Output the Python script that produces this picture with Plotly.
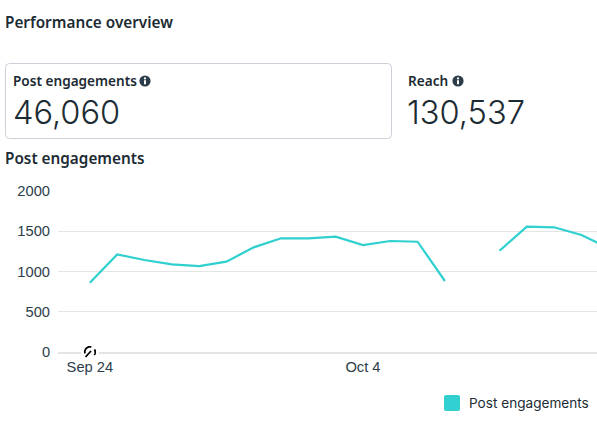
import math
import plotly.graph_objects as go

WIDTH, HEIGHT = 597, 429

# Daily post engagements; None marks the day with no reported value
dates = [
    "2023-09-24", "2023-09-25", "2023-09-26", "2023-09-27", "2023-09-28",
    "2023-09-29", "2023-09-30", "2023-10-01", "2023-10-02", "2023-10-03",
    "2023-10-04", "2023-10-05", "2023-10-06", "2023-10-07", "2023-10-08",
    "2023-10-09", "2023-10-10", "2023-10-11", "2023-10-12", "2023-10-13",
]
engagements = [
    861, 1212, 1143, 1089, 1068,
    1122, 1300, 1412, 1412, 1432,
    1329, 1379, 1370, 882, None,
    1258, 1557, 1549, 1453, 1290,
]
y_ticks = [0, 500, 1000, 1500, 2000]
x_tick_dates = ["2023-09-24", "2023-10-04"]
x_tick_labels = ["Sep 24", "Oct 4"]

title_text = "Performance overview"
section_text = "Post engagements"
kpi_names = ["Post engagements", "Reach"]
kpi_values = ["46,060", "130,537"]

INK = "#1c2b33"
TICK = "#2b3d4a"
TEAL = "#2fd0cf"
GRID = "#e4e4e4"
BORDER = "#ccd0d8"
HEAD_FONT = "Noto Sans"
NUM_FONT = "Inter"
AXIS_FONT = "Liberation Sans"


def px(x):
    return x / WIDTH


def py(y):
    return 1 - y / HEIGHT


def label(x, y, text, size, family=HEAD_FONT, weight=400, color=INK, anchor="left"):
    return dict(
        x=px(x), y=py(y), xref="paper", yref="paper", text=text, showarrow=False,
        xanchor=anchor, yanchor="middle", borderpad=0,
        font=dict(family=family, size=size, weight=weight, color=color),
    )


def rounded_rect(x0, y0, x1, y1, r):
    def p(x, y):
        return f"{px(x):.5f},{py(y):.5f}"
    return (
        f"M{p(x0 + r, y0)} L{p(x1 - r, y0)} Q{p(x1, y0)} {p(x1, y0 + r)} "
        f"L{p(x1, y1 - r)} Q{p(x1, y1)} {p(x1 - r, y1)} "
        f"L{p(x0 + r, y1)} Q{p(x0, y1)} {p(x0, y1 - r)} "
        f"L{p(x0, y0 + r)} Q{p(x0, y0)} {p(x0 + r, y0)} Z"
    )


def arc(cx, cy, r, start, end, steps=24):
    pts = []
    for i in range(steps + 1):
        a = math.radians(start + (end - start) * i / steps)
        pts.append(f"{px(cx + r * math.cos(a)):.5f},{py(cy - r * math.sin(a)):.5f}")
    return "M" + " L".join(pts)


def disc(cx, cy, r, fill):
    return dict(
        type="circle", xref="paper", yref="paper",
        x0=px(cx - r), x1=px(cx + r), y0=py(cy + r), y1=py(cy - r),
        fillcolor=fill, line=dict(width=0), layer="above",
    )


def info_icon(cx, cy):
    # Filled dot with a knocked-out "i"
    return [
        disc(cx, cy, 5.6, "#2b3d4a"),
        disc(cx, cy - 2.6, 1.1, "white"),
        dict(type="rect", xref="paper", yref="paper",
             x0=px(cx - 1), x1=px(cx + 1), y0=py(cy + 3.2), y1=py(cy - 0.8),
             fillcolor="white", line=dict(width=0), layer="above"),
    ]


def gauge_icon(cx, cy):
    # Loading gauge sitting on the baseline at the first date
    stroke = dict(color="black", width=1.8)
    return [
        disc(cx, cy, 9, "white"),
        dict(type="path", xref="paper", yref="paper", path=arc(cx, cy, 5.2, 195, 75),
             line=stroke, layer="above"),
        dict(type="path", xref="paper", yref="paper", path=arc(cx, cy, 5.2, 30, -35),
             line=stroke, layer="above"),
        dict(type="path", xref="paper", yref="paper",
             path=f"M{px(cx - 4.5):.5f},{py(cy + 5):.5f} L{px(cx + 1):.5f},{py(cy - 1):.5f}",
             line=stroke, layer="above"),
    ]


shapes = [
    dict(type="path", xref="paper", yref="paper",
         path=rounded_rect(5.5, 63.5, 391.5, 138.5, 4),
         line=dict(color=BORDER, width=1), fillcolor="white", layer="below"),
    dict(type="path", xref="paper", yref="paper",
         path=rounded_rect(444, 395, 460, 411, 2),
         line=dict(width=0), fillcolor=TEAL, layer="above"),
    *info_icon(145, 81),
    *info_icon(458, 81),
    *gauge_icon(90, 352),
]

annotations = [
    label(4, 22, title_text, 15.3, weight=600),
    label(12, 81, kpi_names[0], 13.6, weight=600),
    label(12, 112, kpi_values[0], 32.6, family=NUM_FONT, weight=300),
    label(407, 81, kpi_names[1], 13.6, weight=600),
    label(406, 112, kpi_values[1], 32.6, family=NUM_FONT, weight=300),
    label(4, 158, section_text, 15.3, weight=600),
    label(468, 403, section_text, 13.6, family=NUM_FONT, weight=400),
]

fig = go.Figure(
    go.Scatter(
        x=dates, y=engagements, mode="lines", name=section_text,
        line=dict(color=TEAL, width=2.2), connectgaps=False, showlegend=False,
    )
)

fig.update_layout(
    width=WIDTH, height=HEIGHT,
    margin=dict(l=0, r=0, t=0, b=0, autoexpand=False),
    paper_bgcolor="white", plot_bgcolor="white",
    shapes=shapes, annotations=annotations,
    xaxis=dict(
        domain=[px(58), 1],
        range=["2023-09-22 20:00", "2023-10-12 13:40"],
        tickvals=x_tick_dates, ticktext=x_tick_labels,
        showgrid=False, zeroline=False, ticks="", showline=True,
        linecolor=GRID, linewidth=2, anchor="y", automargin=False,
        tickfont=dict(family=AXIS_FONT, size=14.7, color=TICK),
    ),
    yaxis=dict(
        domain=[py(352), py(191)],
        range=[0, 2000], tickvals=y_ticks,
        showgrid=True, gridcolor=GRID, gridwidth=1.4, zeroline=False,
        ticks="outside", ticklen=4, tickcolor="rgba(0,0,0,0)", automargin=False,
        tickfont=dict(family=AXIS_FONT, size=14.7, color=TICK),
    ),
)

fig.write_html("out.html", config=dict(displayModeBar=False))
